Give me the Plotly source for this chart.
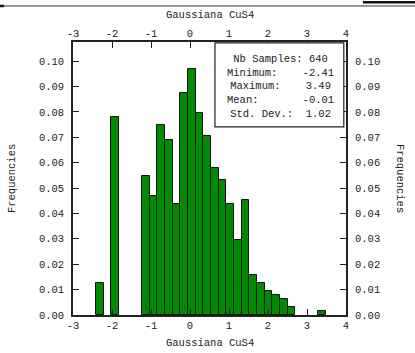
import plotly.graph_objects as go

# Histogram of the CuS4 sample: 30 equal bins between the sample minimum and maximum
bin_start = -2.41
bin_end = 3.49
counts = [8, 0, 50, 0, 0, 0, 35, 30, 48, 44, 28, 56, 62, 51, 45,
          37, 34, 28, 19, 29, 10, 8, 6, 5, 4, 2, 0, 0, 0, 1]
n_samples = 640

x_tickvals = [-3, -2, -1, 0, 1, 2, 3, 4]
x_ticktext = ["-3", "-2", "-1", "0", "1", "2", "3", "4"]
y_tickvals = [0.00, 0.01, 0.02, 0.03, 0.04, 0.05, 0.06, 0.07, 0.08, 0.09, 0.10]
y_ticktext = ["0.00", "0.01", "0.02", "0.03", "0.04", "0.05", "0.06", "0.07", "0.08", "0.09", "0.10"]

stat_names = ["Minimum:", "Maximum:", "Mean:", "Std. Dev.:"]
stat_values = ["-2.41", "3.49", "-0.01", "1.02"]

title = "Gaussiana CuS4"
y_title = "Frequencies"

n_bins = len(counts)
width = (bin_end - bin_start) / n_bins
centers = [bin_start + (i + 0.5) * width for i in range(n_bins)]
# empty bins are left undrawn
freqs = [c / n_samples if c > 0 else None for c in counts]

FONT = "Liberation Mono, Courier New, monospace"
FS = 10.5
INK = "#222222"
x_range = [-3, 4]
y_range = [0, 0.1075]

fig = go.Figure()
fig.add_trace(go.Bar(
    x=centers, y=freqs, width=[width] * n_bins,
    marker=dict(color="#008c00", line=dict(color="#111111", width=1)),
    showlegend=False, hoverinfo="x+y",
))

axis_common = dict(
    ticks="inside", ticklen=6, tickwidth=1, tickcolor=INK,
    showgrid=False, zeroline=False, automargin=False,
    tickfont=dict(family=FONT, size=FS, color=INK),
)

fig.update_layout(
    width=415, height=353,
    margin=dict(l=73, r=69, t=42, b=38),
    paper_bgcolor="white", plot_bgcolor="white",
    bargap=0,
    font=dict(family=FONT, size=FS, color=INK),
    xaxis=dict(range=x_range, tickmode="array", tickvals=x_tickvals, ticktext=x_ticktext,
               showline=True, linecolor=INK, linewidth=1.5, mirror=True,
               **axis_common),
    xaxis2=dict(range=x_range, overlaying="x", side="top", anchor="y",
                tickmode="array", tickvals=x_tickvals, ticktext=x_ticktext,
                showline=False, ticklabelstandoff=2,
                **axis_common),
    yaxis=dict(range=y_range, tickmode="array", tickvals=y_tickvals, ticktext=y_ticktext,
               showline=True, linecolor=INK, linewidth=1.5, mirror=True,
               ticklabelstandoff=5,
               **axis_common),
    yaxis2=dict(range=y_range, overlaying="y", side="right", anchor="x",
                tickmode="array", tickvals=y_tickvals, ticktext=y_ticktext,
                showline=False, ticklabelstandoff=8,
                **axis_common),
)

# empty trace so the top and right axes are laid out
fig.add_trace(go.Scatter(x=[None], y=[None], xaxis="x2", yaxis="y2", showlegend=False))

# axis titles
title_font = dict(family=FONT, size=FS, color=INK)
fig.add_annotation(text=title, xref="paper", yref="paper", x=0.5, y=1.099,
                   showarrow=False, xanchor="center", yanchor="middle", font=title_font)
fig.add_annotation(text=title, xref="paper", yref="paper", x=0.5, y=-0.1026,
                   showarrow=False, xanchor="center", yanchor="middle", font=title_font)
fig.add_annotation(text=y_title, xref="paper", yref="paper", x=-0.225, y=0.5,
                   textangle=-90, showarrow=False, xanchor="center", yanchor="middle",
                   font=title_font)
fig.add_annotation(text=y_title, xref="paper", yref="paper", x=1.2, y=0.5,
                   textangle=90, showarrow=False, xanchor="center", yanchor="middle",
                   font=title_font)

# statistics box
fig.add_shape(type="rect", xref="paper", yref="paper",
              x0=0.520, x1=0.992, y0=0.689, y1=0.997,
              line=dict(color=INK, width=1.2), fillcolor="white", layer="above")
lines = ["Nb Samples:\u00a0" + str(n_samples)]
for name, val in zip(stat_names, stat_values):
    total = 17 if len(val) == 5 else 16
    lines.append(name + "\u00a0" * (total - len(name) - len(val)) + val)
fig.add_annotation(text="<br>".join(lines), xref="paper", yref="paper",
                   x=0.759, y=0.838, xanchor="center", yanchor="middle", align="center",
                   showarrow=False, font=title_font)

# window rule along the top edge
fig.add_shape(type="line", xref="paper", yref="paper", x0=-0.27, x1=1.26, y0=1.132, y1=1.132,
              line=dict(color="#333333", width=1))
fig.add_shape(type="line", xref="paper", yref="paper", x0=-0.27, x1=-0.253, y0=1.132, y1=1.132,
              line=dict(color="#111111", width=2.5))
fig.add_shape(type="line", xref="paper", yref="paper", x0=1.062, x1=1.26, y0=1.146, y1=1.146,
              line=dict(color="#111111", width=2.5))

fig.write_html("out.html")
